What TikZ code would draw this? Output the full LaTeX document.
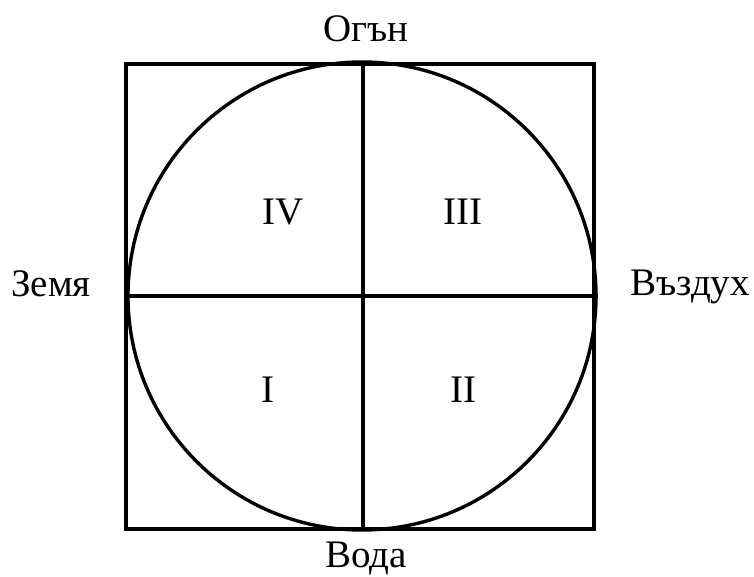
\documentclass[tikz,border=0pt]{standalone}
\usepackage{fontspec}
\setmainfont{Liberation Serif}
\usetikzlibrary{positioning}

\tikzset{
  frame/.style={draw=black, line width=4pt, minimum width=468pt,
    minimum height=465pt, inner sep=0pt},
  wheel/.style={draw=black, circle, line width=3.4pt,
    minimum size=468pt, inner sep=0pt},
  axis/.style={draw=black, line width=3.4pt},
  element/.style={font=\fontsize{39}{44}\selectfont, anchor=base, inner sep=0pt},
  quarter/.style={font=\fontsize{39}{44}\selectfont, anchor=base, inner sep=0pt}
}

\begin{document}
\begin{tikzpicture}[x=1pt, y=1pt]

\useasboundingbox (0,0) rectangle (754,577);

% ── Square and circle ─────────────────────────────────────────────────────────
\node[frame] (sq) at (360,280.5) {};
\node[wheel] (wh) at (362,281) {};

% ── Cross ─────────────────────────────────────────────────────────────────────
\draw[axis] (sq.north -| 363,0) -- (sq.south -| 363,0);
\draw[axis] (wh.west) -- (wh.east);

% ── Elements ──────────────────────────────────────────────────────────────────
\node[element] (fire)  at (366,535) {Огън};
\node[element] (water) at (366,9)   {Вода};
\node[element] (earth) at (51,280)  {Земя};
\node[element] (air)   at (690,281) {Въздух};

% ── Quarters ──────────────────────────────────────────────────────────────────
\node[quarter] (q4) at (283,352) {IV};
\node[quarter] (q3) at (463,352) {III};
\node[quarter] (q1) at (268,174) {I};
\node[quarter] (q2) at (463,174) {II};

\end{tikzpicture}
\end{document}
